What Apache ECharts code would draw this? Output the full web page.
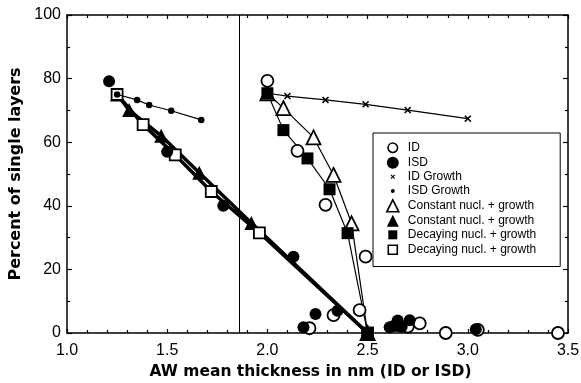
<!DOCTYPE html>
<html>
<head>
<meta charset="utf-8">
<script src="https://cdn.jsdelivr.net/npm/echarts@6/dist/echarts.min.js"></script>
<style>
html,body{margin:0;padding:0;background:#fff;}
#chart{width:581px;height:383px;}
</style>
</head>
<body>
<div id="chart"></div>
<script>
// Measured points: [thickness (nm), percent of single layers]
const idData = [[2.00,79.3],[2.15,57.3],[2.29,40.3],[2.49,24.0],[2.46,7.2],[2.33,5.6],[2.21,1.5],[2.65,2.5],[2.70,2.0],[2.76,3.0],[2.89,0],[3.05,1.0],[3.45,0]];
const isdData = [[1.21,79.2],[1.50,57.0],[1.78,40.0],[2.13,24.0],[2.24,6.0],[2.18,1.8],[2.35,7.0],[2.61,1.8],[2.63,2.2],[2.65,3.9],[2.67,2.0],[2.71,4.0],[3.04,1.2]];

// Growth-only curves
const idGrowth = [[2.00,75.4],[2.10,74.5],[2.29,73.3],[2.49,71.9],[2.70,70.1],[3.00,67.4]];
const isdGrowth = [[1.25,75.0],[1.35,73.3],[1.41,71.7],[1.52,69.9],[1.67,67.0]];

// Nucleation + growth models
const constIdModel = [[2.00,75.4],[2.08,70.7],[2.23,61.5],[2.33,49.7],[2.42,34.5],[2.50,0]];
const constIsdModel = [[1.25,75.0],[1.31,70.1],[1.47,62.0],[1.66,50.4],[1.92,34.6],[2.50,0]];
const decayIdModel = [[2.00,75.4],[2.08,63.8],[2.20,54.9],[2.31,45.2],[2.40,31.4],[2.50,0]];
const decayIsdModel = [[1.25,75.0],[1.38,65.5],[1.54,56.0],[1.72,44.5],[1.96,31.5],[2.50,0]];

// Vertical reference position on the thickness axis
const refThickness = 1.86;

const xTicks = [1.0, 1.5, 2.0, 2.5, 3.0, 3.5];
const yTicks = [0, 20, 40, 60, 80, 100];

const FONT = '"Liberation Sans", Arial, Helvetica, sans-serif';
const TITLE_FONT = '"DejaVu Sans", "Liberation Sans", Arial, sans-serif';
const BLACK = '#000';

// Small marker shapes
const crossPath = 'path://M0,1.5 L1.5,0 L5,3.5 L8.5,0 L10,1.5 L6.5,5 L10,8.5 L8.5,10 L5,6.5 L1.5,10 L0,8.5 L3.5,5 Z';
// Padded versions for the legend so they stay small inside the icon box
const legendCross = 'path://M0,0 M24,24 M7.5,9 L9,7.5 L12,10.5 L15,7.5 L16.5,9 L13.5,12 L16.5,15 L15,16.5 L12,13.5 L9,16.5 L7.5,15 L10.5,12 Z';
const legendDot = 'path://M0,0 M24,24 M12,8 A4,4 0 1 1 11.99,8 Z';
const legendCircle = 'path://M0,0 M24,24 M12,2.5 A9.5,9.5 0 1 1 11.99,2.5 Z';
const legendSquare = 'path://M0,0 M24,24 M3,3 L21,3 L21,21 L3,21 Z';

function nameOf(label, group) { return label + ' (' + group + ')'; }

const series = [
  {
    name: nameOf('Constant nucl. + growth', 'ISD'), type: 'line', data: constIsdModel,
    symbol: 'triangle', symbolSize: 14, z: 3,
    lineStyle: { color: BLACK, width: 3.5 }, itemStyle: { color: BLACK, borderColor: BLACK, borderWidth: 0 },
    markLine: {
      silent: true, symbol: 'none', animation: false,
      label: { show: false },
      lineStyle: { color: BLACK, width: 1, type: 'solid' },
      data: [{ xAxis: refThickness }]
    }
  },
  {
    name: nameOf('Decaying nucl. + growth', 'ISD'), type: 'line', data: decayIsdModel,
    symbol: 'rect', symbolSize: 11, z: 4,
    lineStyle: { color: BLACK, width: 3.5 }, itemStyle: { color: '#fff', borderColor: BLACK, borderWidth: 1.8 }
  },
  {
    name: nameOf('Constant nucl. + growth', 'ID'), type: 'line', data: constIdModel,
    symbol: 'triangle', symbolSize: 14, z: 4,
    lineStyle: { color: BLACK, width: 1.2 }, itemStyle: { color: '#fff', borderColor: BLACK, borderWidth: 1.8 }
  },
  {
    name: nameOf('Decaying nucl. + growth', 'ID'), type: 'line', data: decayIdModel,
    symbol: 'rect', symbolSize: 12, z: 4,
    lineStyle: { color: BLACK, width: 1.2 }, itemStyle: { color: BLACK, borderWidth: 0 }
  },
  {
    name: 'ID Growth', type: 'line', data: idGrowth,
    symbol: crossPath, symbolSize: 7, z: 5,
    lineStyle: { color: BLACK, width: 1.2 }, itemStyle: { color: BLACK, borderWidth: 0 }
  },
  {
    name: 'ISD Growth', type: 'line', data: isdGrowth,
    symbol: 'circle', symbolSize: 6.5, z: 5,
    lineStyle: { color: BLACK, width: 1.2 }, itemStyle: { color: BLACK, borderWidth: 0 }
  },
  {
    name: 'ID', type: 'scatter', data: idData,
    symbol: 'circle', symbolSize: 12, z: 6,
    itemStyle: { color: '#fff', borderColor: BLACK, borderWidth: 1.8, opacity: 1 }
  },
  {
    name: 'ISD', type: 'scatter', data: isdData,
    symbol: 'circle', symbolSize: 12, z: 6,
    itemStyle: { color: BLACK, borderWidth: 0, opacity: 1 }
  }
];

const legendItems = [
  { name: 'ID', icon: legendCircle, itemStyle: { color: '#fff', borderColor: BLACK, borderWidth: 1.6 } },
  { name: 'ISD', icon: 'circle', itemStyle: { color: BLACK, borderWidth: 0 } },
  { name: 'ID Growth', icon: legendCross, itemStyle: { color: BLACK, borderWidth: 0 } },
  { name: 'ISD Growth', icon: legendDot, itemStyle: { color: BLACK, borderWidth: 0 } },
  { name: nameOf('Constant nucl. + growth', 'ID'), icon: 'triangle', itemStyle: { color: '#fff', borderColor: BLACK, borderWidth: 1.6 } },
  { name: nameOf('Constant nucl. + growth', 'ISD'), icon: 'triangle', itemStyle: { color: BLACK, borderWidth: 0 } },
  { name: nameOf('Decaying nucl. + growth', 'ID'), icon: legendSquare, itemStyle: { color: BLACK, borderWidth: 0 } },
  { name: nameOf('Decaying nucl. + growth', 'ISD'), icon: legendSquare, itemStyle: { color: '#fff', borderColor: BLACK, borderWidth: 1.6 } }
];

const axisLine = { show: true, onZero: false, lineStyle: { color: BLACK, width: 1.5 } };

const option = {
  animation: false,
  backgroundColor: '#fff',
  textStyle: { fontFamily: FONT },
  grid: { left: 67, right: 13, top: 15, bottom: 50, containLabel: false, outerBoundsMode: 'none' },
  legend: {
    orient: 'vertical',
    left: 373, top: 133,
    padding: [8, 24, 10, 13],
    itemWidth: 12, itemHeight: 12, itemGap: 2.1,
    borderColor: BLACK, borderWidth: 1,
    backgroundColor: '#fff',
    selectedMode: false,
    formatter: n => n.replace(/ \((ID|ISD)\)$/, ''),
    textStyle: { fontFamily: FONT, fontSize: 12, color: BLACK, padding: [0, 0, 0, 4] },
    data: legendItems
  },
  xAxis: [
    {
      type: 'value', min: 1.0, max: 3.5, interval: 0.5,
      name: 'AW mean thickness in nm (ID or ISD)', nameLocation: 'middle', nameGap: 29,
      nameTextStyle: { fontFamily: TITLE_FONT, fontWeight: 'bold', fontSize: 15.5, color: BLACK, padding: [0, 14, 0, 0] },
      axisLine: axisLine,
      axisTick: { show: true, inside: true, length: 4, lineStyle: { color: BLACK, width: 1.2 } },
      minorTick: { show: true, splitNumber: 5, length: 3, lineStyle: { color: BLACK, width: 1.2 } },
      axisLabel: {
        color: BLACK, fontSize: 16, fontFamily: FONT, margin: 10,
        formatter: v => xTicks.includes(+v.toFixed(1)) ? v.toFixed(1) : ''
      },
      splitLine: { show: false }
    },
    {
      type: 'value', position: 'top', min: 1.0, max: 3.5, interval: 0.5,
      axisLine: axisLine,
      axisTick: { show: true, inside: true, length: 4, lineStyle: { color: BLACK, width: 1.2 } },
      minorTick: { show: true, splitNumber: 5, length: 3, lineStyle: { color: BLACK, width: 1.2 } },
      axisLabel: { show: false },
      splitLine: { show: false }
    }
  ],
  yAxis: [
    {
      type: 'value', min: 0, max: 100, interval: 20,
      name: 'Percent of single layers', nameLocation: 'middle', nameGap: 38,
      nameTextStyle: { fontFamily: TITLE_FONT, fontWeight: 'bold', fontSize: 16, color: BLACK },
      axisLine: axisLine,
      axisTick: { show: true, inside: true, length: 5, lineStyle: { color: BLACK, width: 1.2 } },
      minorTick: { show: true, splitNumber: 2, length: 3, lineStyle: { color: BLACK, width: 1.2 } },
      axisLabel: {
        color: BLACK, fontSize: 16, fontFamily: FONT, margin: 6,
        formatter: v => yTicks.includes(v) ? String(v) : ''
      },
      splitLine: { show: false }
    },
    {
      type: 'value', position: 'right', min: 0, max: 100, interval: 20,
      axisLine: axisLine,
      axisTick: { show: true, inside: true, length: 5, lineStyle: { color: BLACK, width: 1.2 } },
      minorTick: { show: true, splitNumber: 2, length: 3, lineStyle: { color: BLACK, width: 1.2 } },
      axisLabel: { show: false },
      splitLine: { show: false }
    }
  ],
  series: series
};

const chart = echarts.init(document.getElementById('chart'), null, { renderer: 'canvas' });
chart.setOption(option);
</script>
</body>
</html>
